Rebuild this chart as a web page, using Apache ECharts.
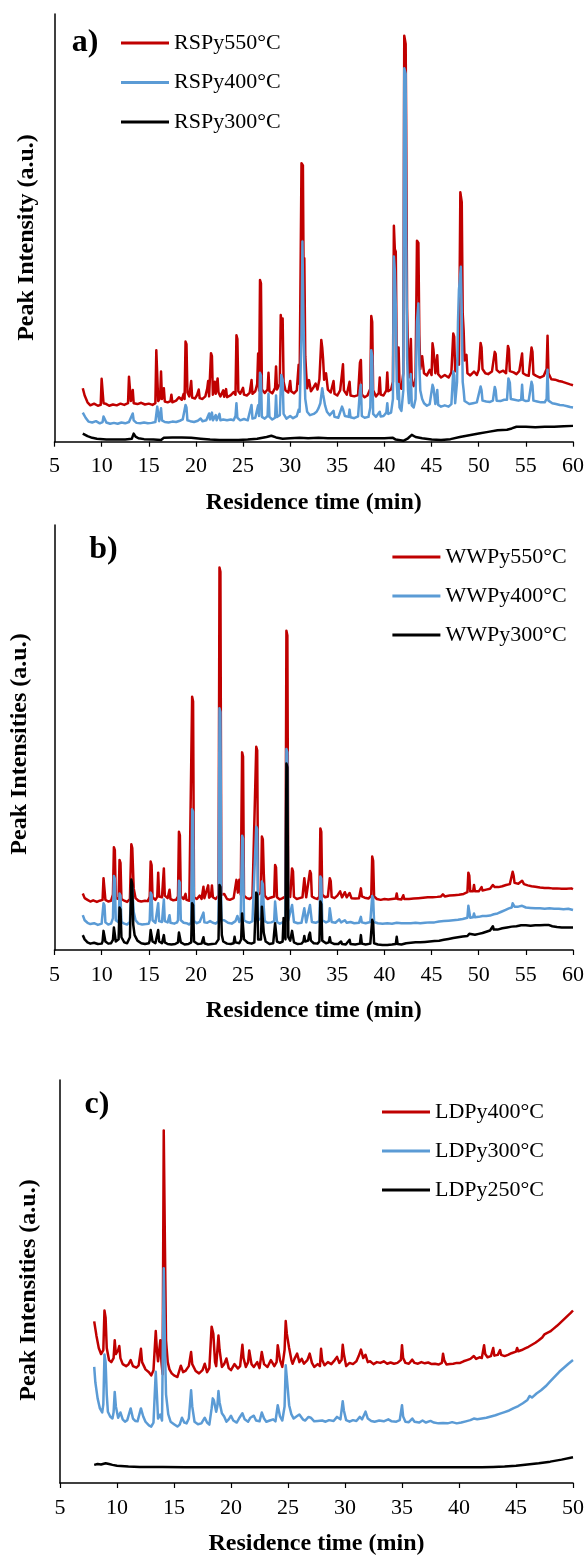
<!DOCTYPE html>
<html>
<head>
<meta charset="utf-8">
<script src="https://cdn.jsdelivr.net/npm/echarts@6/dist/echarts.min.js"></script>
<style>
html,body{margin:0;padding:0;background:#fff;}
#chart{width:587px;height:1557px;}
</style>
</head>
<body>
<div id="chart"></div>
<script>
// ---- Data (time in min, intensity in a.u., 0-100 of axis height) ----
const namesA = ['RSPy550°C', 'RSPy400°C', 'RSPy300°C'];
const namesB = ['WWPy550°C', 'WWPy400°C', 'WWPy300°C'];
const namesC = ['LDPy400°C', 'LDPy300°C', 'LDPy250°C'];
const panelLabels = ['a)', 'b)', 'c)'];
const yTitles = ['Peak Intensity (a.u.)', 'Peak Intensities (a.u.)', 'Peak Intensities (a.u.)'];
const xTitle = 'Residence time (min)';
const xRangeA = [5, 60], xRangeB = [5, 60], xRangeC = [5, 50];

const rspy550 = [[8.0,12.5],[8.2,10.8],[8.5,9.2],[8.8,8.5],[9.2,8.9],[9.6,8.4],[9.9,8.6],[10.0,14.7],[10.1,14.5],[10.2,9.0],[10.5,8.8],[10.8,8.4],[11.2,8.7],[11.6,8.5],[12.0,8.9],[12.4,8.6],[12.8,9.0],[12.9,15.2],[13.0,15.0],[13.1,9.5],[13.3,12.1],[13.4,9.0],[13.8,8.8],[14.2,9.1],[14.6,8.7],[15.0,8.9],[15.4,8.6],[15.7,9.0],[15.8,21.4],[15.9,21.0],[16.0,9.5],[16.2,10.2],[16.3,16.4],[16.4,10.0],[16.6,12.5],[16.7,9.4],[17.0,9.2],[17.3,9.5],[17.4,11.0],[17.5,9.2],[17.9,9.6],[18.2,10.4],[18.5,9.8],[18.7,11.2],[18.8,10.0],[18.9,23.4],[19.0,22.8],[19.1,11.5],[19.3,10.6],[19.5,14.2],[19.6,10.3],[19.9,10.1],[20.1,10.8],[20.3,12.2],[20.4,10.2],[20.7,10.0],[21.0,10.6],[21.2,12.4],[21.3,14.2],[21.4,10.6],[21.6,20.7],[21.7,20.0],[21.8,11.0],[22.0,14.0],[22.1,11.2],[22.3,14.8],[22.4,11.5],[22.6,10.6],[22.9,12.0],[23.0,10.5],[23.2,12.3],[23.3,10.4],[23.7,10.9],[24.0,11.6],[24.2,11.0],[24.3,24.9],[24.4,24.0],[24.5,11.8],[24.7,11.2],[25.0,12.6],[25.1,11.0],[25.4,10.8],[25.7,11.4],[25.9,14.4],[26.0,11.2],[26.3,11.8],[26.5,13.5],[26.6,20.6],[26.7,12.0],[26.8,37.8],[26.9,37.0],[27.0,12.2],[27.3,11.4],[27.6,12.2],[27.7,16.1],[27.8,11.8],[28.1,11.3],[28.4,12.6],[28.5,17.6],[28.6,12.2],[28.9,13.5],[29.0,29.6],[29.1,27.0],[29.2,28.8],[29.3,14.0],[29.5,12.0],[29.8,11.5],[30.0,14.2],[30.1,11.8],[30.4,11.3],[30.7,12.0],[30.9,18.0],[31.0,13.5],[31.2,65.1],[31.35,64.6],[31.45,30.0],[31.5,42.9],[31.6,20.0],[31.7,16.0],[31.8,12.5],[32.0,14.4],[32.2,11.8],[32.5,12.8],[32.7,13.6],[32.9,12.2],[33.1,14.6],[33.3,23.8],[33.4,22.0],[33.5,19.0],[33.6,14.5],[33.8,16.0],[34.0,12.2],[34.3,11.5],[34.6,14.2],[34.7,11.2],[35.0,10.8],[35.3,12.0],[35.5,16.0],[35.6,18.1],[35.7,12.0],[36.0,11.0],[36.3,14.0],[36.4,10.8],[36.8,10.6],[37.2,10.9],[37.4,18.5],[37.5,19.1],[37.6,11.0],[37.9,10.4],[38.2,10.8],[38.5,12.4],[38.6,29.4],[38.7,28.0],[38.8,12.0],[39.1,10.6],[39.4,11.4],[39.5,15.0],[39.6,11.0],[39.9,10.8],[40.2,12.0],[40.3,16.2],[40.4,11.8],[40.7,12.2],[40.9,14.0],[41.0,50.5],[41.1,45.0],[41.2,44.4],[41.3,20.0],[41.4,14.0],[41.5,22.0],[41.6,13.0],[41.8,12.4],[42.0,16.0],[42.1,94.9],[42.25,93.0],[42.3,75.2],[42.4,31.2],[42.5,20.0],[42.6,15.0],[42.8,24.0],[42.9,14.0],[43.1,13.0],[43.3,15.0],[43.45,47.0],[43.6,46.5],[43.7,25.0],[43.8,17.0],[44.0,20.0],[44.2,16.0],[44.5,15.5],[44.8,16.8],[45.0,15.6],[45.1,23.0],[45.2,21.5],[45.4,16.0],[45.6,20.2],[45.7,15.8],[46.0,15.0],[46.4,15.6],[46.8,15.0],[47.1,16.2],[47.3,25.3],[47.4,24.5],[47.5,16.5],[47.8,19.7],[47.9,18.0],[48.05,58.3],[48.2,56.0],[48.3,30.0],[48.4,26.0],[48.5,19.0],[48.7,20.3],[48.8,16.0],[49.1,15.5],[49.5,16.4],[49.8,15.6],[50.0,16.8],[50.2,23.1],[50.3,22.0],[50.4,17.0],[50.7,16.0],[51.0,15.8],[51.4,16.4],[51.7,21.0],[51.8,20.5],[51.9,16.8],[52.2,16.2],[52.6,16.6],[52.9,16.0],[53.1,22.4],[53.2,21.6],[53.3,16.5],[53.7,16.2],[54.0,15.8],[54.3,16.5],[54.6,20.6],[54.7,16.0],[55.0,15.6],[55.3,15.4],[55.6,22.0],[55.7,21.0],[55.8,15.8],[56.1,15.4],[56.5,15.0],[56.9,15.4],[57.2,17.0],[57.3,24.8],[57.4,16.0],[57.7,14.6],[58.1,14.5],[58.5,14.2],[58.9,14.0],[59.3,13.7],[59.7,13.4],[60.0,13.2]];

const rspy400 = [[8.0,6.8],[8.3,5.6],[8.6,4.7],[9.0,4.5],[9.4,4.8],[9.8,4.3],[10.1,4.6],[10.2,5.9],[10.3,5.6],[10.5,4.5],[10.9,4.2],[11.3,4.4],[11.7,4.2],[12.1,4.5],[12.5,4.3],[12.9,4.6],[13.1,5.0],[13.3,6.6],[13.4,5.0],[13.7,4.4],[14.1,4.3],[14.5,4.5],[14.9,4.3],[15.3,4.4],[15.7,4.6],[15.9,8.2],[16.0,7.8],[16.1,4.8],[16.3,7.8],[16.4,5.0],[16.7,4.6],[17.1,4.5],[17.5,4.7],[17.9,4.6],[18.3,4.9],[18.6,5.2],[18.9,8.6],[19.0,8.0],[19.1,5.0],[19.4,4.8],[19.8,4.6],[20.2,4.9],[20.5,5.4],[20.7,4.8],[21.1,5.0],[21.4,6.6],[21.5,5.2],[21.7,6.8],[21.8,5.0],[22.1,6.2],[22.2,5.0],[22.5,6.5],[22.6,5.0],[22.9,5.2],[23.3,5.0],[23.7,5.2],[24.0,5.0],[24.2,6.0],[24.3,9.0],[24.4,5.6],[24.7,5.0],[25.1,5.3],[25.5,5.0],[25.9,8.6],[26.0,5.4],[26.3,5.6],[26.6,8.5],[26.7,6.0],[26.8,16.1],[26.9,15.5],[27.0,5.8],[27.3,5.4],[27.6,6.0],[27.7,11.2],[27.8,5.8],[28.1,5.2],[28.4,5.6],[28.5,10.8],[28.6,5.8],[28.9,6.2],[29.05,15.6],[29.2,14.5],[29.3,6.5],[29.6,5.4],[30.0,6.0],[30.3,5.5],[30.7,6.0],[30.9,7.5],[31.0,7.0],[31.2,25.0],[31.3,46.8],[31.4,30.0],[31.5,18.0],[31.6,10.0],[31.8,7.0],[32.1,6.2],[32.5,6.5],[32.8,7.0],[33.0,7.8],[33.2,9.0],[33.4,12.5],[33.5,11.0],[33.7,8.5],[33.9,7.0],[34.2,6.2],[34.6,7.2],[34.7,5.8],[35.1,5.6],[35.5,8.2],[35.6,7.6],[35.8,6.0],[36.2,5.8],[36.3,7.5],[36.4,5.7],[36.8,5.5],[37.2,5.9],[37.4,12.0],[37.5,13.3],[37.6,6.0],[37.9,5.6],[38.3,5.8],[38.5,8.0],[38.6,21.4],[38.7,20.0],[38.8,6.5],[39.1,5.8],[39.5,7.0],[39.6,5.9],[39.9,6.0],[40.2,6.8],[40.3,9.0],[40.4,6.5],[40.7,6.8],[40.9,10.0],[41.0,43.3],[41.1,40.0],[41.2,32.0],[41.3,14.0],[41.4,10.0],[41.5,13.5],[41.6,8.0],[41.8,7.2],[42.0,12.0],[42.1,87.3],[42.25,86.0],[42.3,50.0],[42.4,20.0],[42.5,12.0],[42.6,9.0],[42.8,15.8],[42.9,8.5],[43.1,8.0],[43.3,10.0],[43.45,28.0],[43.6,32.3],[43.7,18.0],[43.8,12.0],[44.0,10.0],[44.2,9.0],[44.5,8.4],[44.8,8.8],[45.0,8.6],[45.1,13.3],[45.2,12.6],[45.4,8.8],[45.6,12.1],[45.7,8.6],[46.0,8.2],[46.4,8.5],[46.8,8.2],[47.1,8.8],[47.3,16.4],[47.4,15.5],[47.5,9.0],[47.7,14.0],[47.8,28.0],[47.9,35.5],[48.0,38.0],[48.1,40.9],[48.2,30.0],[48.3,14.0],[48.4,12.0],[48.5,9.5],[48.7,9.2],[49.0,8.8],[49.4,9.0],[49.8,9.2],[50.0,9.6],[50.2,12.9],[50.3,12.0],[50.4,9.6],[50.8,9.4],[51.2,9.3],[51.5,9.6],[51.7,12.8],[51.8,12.0],[51.9,9.6],[52.3,9.5],[52.7,9.8],[53.0,9.8],[53.15,14.8],[53.3,13.8],[53.4,10.0],[53.8,9.8],[54.2,9.6],[54.5,9.8],[54.6,13.3],[54.7,9.8],[55.0,9.5],[55.3,9.6],[55.6,14.0],[55.7,13.2],[55.8,9.6],[56.2,9.4],[56.6,9.2],[57.0,9.2],[57.2,10.0],[57.3,16.8],[57.4,9.6],[57.8,9.0],[58.2,8.8],[58.6,8.6],[59.0,8.5],[59.4,8.3],[59.7,8.1],[60.0,8.0]];

const rspy300 = [[8.0,1.9],[8.5,1.3],[9.0,0.9],[9.5,0.7],[10.5,0.5],[11.5,0.5],[12.5,0.5],[13.2,0.7],[13.4,1.9],[13.6,1.2],[13.9,0.8],[14.5,0.6],[15.5,0.5],[16.3,0.4],[16.6,0.9],[17.5,1.0],[18.5,1.0],[19.5,0.9],[20.5,0.7],[21.5,0.5],[22.5,0.4],[23.5,0.4],[24.5,0.4],[25.5,0.5],[26.5,0.7],[27.5,1.1],[28.0,1.4],[28.5,1.0],[29.2,0.7],[30.0,0.8],[31.0,0.9],[31.9,0.8],[32.1,1.0],[33.0,0.9],[34.0,0.8],[35.0,0.8],[36.0,0.8],[37.0,0.8],[38.0,0.8],[39.0,0.8],[40.0,0.8],[40.9,0.9],[41.2,0.5],[42.0,0.2],[42.5,0.8],[42.9,1.6],[43.3,1.1],[44.0,0.8],[45.0,0.5],[46.0,0.4],[47.0,0.6],[48.0,1.1],[49.0,1.5],[50.0,1.9],[51.0,2.3],[52.0,2.7],[53.0,2.8],[53.5,3.1],[54.0,3.5],[55.0,3.5],[56.0,3.4],[57.0,3.5],[58.0,3.5],[59.0,3.6],[60.0,3.7]];

const wwpy550 = [[8.0,13.3],[8.2,12.2],[8.5,11.8],[8.8,11.4],[9.1,11.7],[9.5,11.3],[9.8,11.6],[10.1,11.8],[10.2,16.9],[10.3,16.5],[10.4,11.8],[10.7,11.4],[11.0,11.6],[11.2,13.0],[11.3,24.2],[11.4,23.5],[11.5,12.2],[11.8,12.0],[11.9,21.2],[12.0,20.5],[12.1,12.0],[12.4,11.6],[12.7,11.3],[13.0,12.0],[13.15,24.9],[13.25,24.0],[13.4,14.5],[13.6,12.2],[13.9,11.6],[14.2,11.4],[14.6,11.6],[14.9,11.5],[15.1,12.5],[15.2,20.8],[15.3,20.0],[15.4,12.4],[15.7,11.8],[15.9,12.5],[16.0,18.2],[16.1,12.6],[16.4,12.4],[16.6,19.2],[16.7,12.8],[17.0,12.2],[17.2,14.2],[17.3,12.0],[17.6,11.7],[17.9,11.8],[18.1,12.6],[18.2,27.8],[18.3,27.0],[18.4,12.6],[18.7,12.0],[18.9,13.2],[19.0,11.8],[19.3,11.6],[19.5,12.0],[19.6,59.6],[19.7,58.5],[19.8,12.4],[20.1,12.0],[20.4,12.8],[20.6,12.0],[20.8,14.9],[20.9,12.2],[21.1,12.4],[21.3,15.2],[21.4,12.3],[21.6,12.8],[21.7,15.2],[21.8,12.4],[22.1,12.0],[22.4,12.8],[22.5,90.0],[22.6,89.0],[22.7,13.0],[23.0,13.2],[23.3,12.0],[23.6,11.8],[24.0,12.2],[24.3,16.5],[24.45,13.5],[24.6,16.5],[24.75,13.0],[24.9,46.5],[25.0,45.5],[25.1,12.8],[25.4,12.2],[25.7,12.0],[26.0,12.5],[26.2,12.2],[26.4,47.8],[26.5,47.0],[26.6,13.0],[26.9,13.5],[27.0,26.7],[27.1,26.0],[27.2,18.0],[27.3,12.8],[27.6,12.0],[27.9,12.3],[28.3,12.6],[28.4,20.0],[28.5,19.4],[28.6,12.4],[28.9,11.9],[29.2,12.2],[29.5,12.6],[29.6,75.1],[29.7,74.0],[29.8,13.2],[30.0,12.5],[30.2,19.2],[30.3,18.5],[30.4,12.5],[30.7,12.0],[31.0,12.2],[31.3,12.4],[31.5,16.9],[31.6,16.5],[31.7,12.4],[31.9,12.6],[32.1,18.6],[32.2,18.0],[32.3,12.6],[32.6,12.2],[32.9,12.0],[33.1,12.6],[33.2,28.6],[33.3,27.8],[33.4,13.0],[33.7,12.4],[34.0,12.6],[34.2,16.9],[34.3,16.2],[34.4,12.5],[34.7,12.2],[35.0,12.8],[35.3,13.8],[35.5,12.4],[35.8,13.6],[36.0,12.4],[36.3,13.4],[36.5,12.2],[36.9,12.1],[37.3,12.2],[37.5,14.5],[37.6,12.6],[37.9,12.3],[38.3,12.1],[38.6,12.8],[38.7,22.0],[38.8,21.0],[38.9,12.6],[39.2,12.0],[39.6,11.8],[40.0,12.0],[40.4,11.9],[40.8,12.0],[41.2,12.1],[41.3,13.3],[41.4,12.0],[41.8,11.9],[42.0,12.9],[42.1,12.0],[42.6,12.0],[43.1,12.1],[43.6,12.2],[44.1,12.3],[44.6,12.4],[45.1,12.4],[45.6,12.5],[46.0,12.6],[46.2,13.1],[46.4,12.6],[46.9,12.8],[47.4,12.9],[47.9,13.0],[48.4,13.2],[48.8,13.6],[48.9,18.2],[49.0,17.5],[49.1,13.8],[49.4,13.8],[49.5,15.3],[49.6,13.8],[50.0,13.8],[50.3,14.8],[50.4,14.0],[50.8,14.2],[51.2,14.4],[51.5,15.3],[51.7,14.8],[52.1,14.8],[52.5,15.0],[52.9,15.3],[53.3,15.5],[53.5,15.8],[53.6,18.4],[53.7,17.5],[53.8,15.8],[54.2,15.6],[54.6,16.3],[54.8,15.5],[55.2,15.2],[55.6,15.0],[56.0,14.9],[56.5,14.7],[57.0,14.6],[57.2,15.0],[57.4,14.6],[57.8,14.5],[58.3,14.5],[58.8,14.4],[59.3,14.4],[59.8,14.5],[60.0,14.3]];

const wwpy400 = [[8.0,8.2],[8.2,7.0],[8.5,6.4],[8.8,6.1],[9.2,6.3],[9.6,5.9],[10.0,6.2],[10.1,6.6],[10.2,11.0],[10.3,10.5],[10.4,6.5],[10.7,6.0],[11.0,6.2],[11.2,7.5],[11.3,17.4],[11.4,16.8],[11.5,7.0],[11.8,6.5],[11.9,13.3],[12.0,12.8],[12.1,6.6],[12.4,6.2],[12.7,6.0],[13.0,6.6],[13.15,15.3],[13.25,14.6],[13.4,9.0],[13.6,7.0],[13.9,6.2],[14.3,6.0],[14.7,6.1],[15.0,6.2],[15.1,7.0],[15.2,13.5],[15.3,13.0],[15.4,7.0],[15.7,6.4],[15.9,6.8],[16.0,11.0],[16.1,6.8],[16.4,6.6],[16.6,11.9],[16.7,6.8],[17.0,6.5],[17.2,8.2],[17.3,6.4],[17.7,6.2],[18.0,6.5],[18.1,7.0],[18.2,16.3],[18.3,15.8],[18.4,7.0],[18.7,6.4],[19.0,6.3],[19.3,6.0],[19.5,6.5],[19.6,33.1],[19.7,32.5],[19.8,6.8],[20.1,6.3],[20.4,6.6],[20.6,6.2],[20.8,8.8],[20.9,6.5],[21.2,6.4],[21.5,6.8],[21.8,6.4],[22.1,6.2],[22.4,6.8],[22.5,56.9],[22.6,56.0],[22.7,7.0],[23.0,7.0],[23.4,6.4],[23.8,6.2],[24.2,6.8],[24.4,8.0],[24.6,6.6],[24.75,7.5],[24.9,26.9],[25.0,26.2],[25.1,7.0],[25.4,6.6],[25.7,6.4],[26.0,6.8],[26.2,6.5],[26.4,29.0],[26.5,28.4],[26.6,7.0],[26.9,7.5],[27.0,16.1],[27.1,15.5],[27.2,10.0],[27.3,6.8],[27.6,6.4],[28.0,6.5],[28.3,6.8],[28.4,11.4],[28.5,11.0],[28.6,6.6],[28.9,6.2],[29.2,6.5],[29.5,6.8],[29.6,47.3],[29.7,46.5],[29.8,7.0],[30.0,6.6],[30.2,10.6],[30.3,10.2],[30.4,6.6],[30.8,6.3],[31.2,6.4],[31.5,9.8],[31.6,9.5],[31.7,6.5],[31.9,6.6],[32.1,10.6],[32.2,10.2],[32.3,6.6],[32.7,6.4],[33.1,6.8],[33.2,17.3],[33.3,16.8],[33.4,7.0],[33.8,6.5],[34.1,6.8],[34.2,9.8],[34.3,9.4],[34.4,6.6],[34.8,6.4],[35.2,7.2],[35.4,6.5],[35.8,7.0],[36.0,6.4],[36.4,6.6],[36.8,6.3],[37.3,6.4],[37.5,7.8],[37.6,6.5],[38.0,6.3],[38.5,6.6],[38.7,12.7],[38.8,12.2],[38.9,6.6],[39.3,6.3],[39.8,6.2],[40.3,6.3],[40.8,6.2],[41.3,6.4],[41.8,6.3],[42.3,6.3],[42.8,6.3],[43.3,6.4],[43.8,6.3],[44.3,6.4],[44.8,6.5],[45.3,6.5],[45.8,6.7],[46.3,6.8],[46.8,6.9],[47.3,7.0],[47.8,7.1],[48.3,7.3],[48.8,7.6],[48.9,10.4],[49.0,10.0],[49.1,7.6],[49.4,7.7],[49.5,8.6],[49.6,7.7],[50.0,7.8],[50.4,8.0],[50.8,8.0],[51.2,8.1],[51.6,8.4],[52.0,8.6],[52.4,9.0],[52.8,9.4],[53.2,9.8],[53.5,10.0],[53.6,11.0],[53.7,10.6],[53.8,10.2],[54.2,10.2],[54.6,10.4],[55.0,10.0],[55.5,9.9],[56.0,9.8],[56.5,9.8],[57.0,9.7],[57.5,9.8],[58.0,9.7],[58.5,9.7],[59.0,9.6],[59.5,9.7],[60.0,9.4]];

const wwpy300 = [[8.0,3.5],[8.2,2.5],[8.5,1.8],[8.8,1.5],[9.2,1.7],[9.6,1.4],[10.0,1.5],[10.1,2.0],[10.2,4.5],[10.3,4.2],[10.4,2.0],[10.7,1.5],[11.0,1.6],[11.2,2.4],[11.3,5.3],[11.4,5.0],[11.5,2.0],[11.8,2.5],[11.9,10.0],[12.0,9.5],[12.1,3.0],[12.4,1.8],[12.7,1.6],[13.0,3.0],[13.15,16.6],[13.25,15.5],[13.35,6.0],[13.5,3.5],[13.8,2.2],[14.2,1.6],[14.6,1.4],[15.0,1.6],[15.1,2.2],[15.2,4.7],[15.3,4.3],[15.4,2.0],[15.7,1.6],[15.9,2.0],[16.0,4.7],[16.1,2.0],[16.4,1.6],[16.6,3.5],[16.7,1.8],[17.0,1.4],[17.4,1.3],[17.8,1.4],[18.1,1.8],[18.2,4.1],[18.3,3.8],[18.4,1.8],[18.8,1.3],[19.2,1.4],[19.5,1.8],[19.6,11.0],[19.7,10.5],[19.8,2.0],[20.2,1.4],[20.6,1.5],[20.8,3.0],[20.9,1.6],[21.3,1.3],[21.7,1.4],[22.1,1.5],[22.4,2.5],[22.5,15.3],[22.6,14.8],[22.75,3.5],[22.9,2.0],[23.3,1.5],[23.7,1.4],[24.0,1.6],[24.1,3.1],[24.2,1.8],[24.6,1.6],[24.8,2.5],[24.9,8.6],[25.0,8.2],[25.1,2.5],[25.5,1.7],[25.9,1.5],[26.2,1.8],[26.4,13.5],[26.5,13.0],[26.6,2.5],[26.9,2.5],[27.0,10.2],[27.1,9.8],[27.2,4.0],[27.4,2.0],[27.8,1.4],[28.2,1.6],[28.3,2.0],[28.4,6.3],[28.5,6.0],[28.6,2.0],[28.9,1.7],[29.2,2.0],[29.3,7.5],[29.4,4.0],[29.5,2.5],[29.6,43.9],[29.7,43.0],[29.8,3.0],[30.0,2.2],[30.2,4.5],[30.3,4.2],[30.4,1.8],[30.8,1.4],[31.2,1.5],[31.4,2.0],[31.5,3.3],[31.6,2.0],[31.9,2.2],[32.0,3.5],[32.1,4.1],[32.2,2.2],[32.5,1.6],[32.9,1.5],[33.1,2.0],[33.2,11.4],[33.3,10.8],[33.4,2.2],[33.8,1.6],[34.1,1.8],[34.2,3.0],[34.3,1.8],[34.7,1.4],[35.1,1.4],[35.4,2.0],[35.5,1.4],[35.9,1.3],[36.3,2.4],[36.4,1.4],[36.9,1.3],[37.4,1.5],[37.5,3.5],[37.6,1.5],[38.0,1.3],[38.5,1.5],[38.7,7.1],[38.8,6.5],[38.9,1.6],[39.3,1.3],[39.8,1.2],[40.3,1.2],[40.8,1.3],[41.2,1.4],[41.3,3.1],[41.4,1.4],[41.8,1.3],[42.3,1.6],[42.8,1.7],[43.3,1.8],[43.8,1.8],[44.3,1.9],[44.8,2.0],[45.3,2.1],[45.8,2.2],[46.3,2.4],[46.8,2.6],[47.3,2.8],[47.8,3.0],[48.3,3.2],[48.8,3.3],[49.0,3.8],[49.2,3.4],[49.6,3.6],[50.0,3.8],[50.4,4.0],[50.8,4.3],[51.2,4.6],[51.5,5.6],[51.6,4.8],[52.0,4.8],[52.5,5.1],[53.0,5.3],[53.5,5.5],[54.0,5.6],[54.5,5.8],[55.0,5.8],[55.5,5.7],[56.0,5.8],[56.5,5.8],[57.0,5.9],[57.2,6.2],[57.4,5.9],[57.8,5.6],[58.3,5.4],[58.8,5.3],[59.3,5.3],[60.0,5.3]];

const ldpy400 = [[8.0,40.1],[8.2,36.5],[8.4,33.5],[8.6,32.0],[8.8,33.0],[8.9,42.8],[9.0,41.0],[9.1,33.5],[9.3,30.5],[9.5,30.0],[9.7,31.0],[9.8,35.4],[9.9,32.0],[10.1,33.0],[10.2,34.0],[10.3,31.0],[10.5,29.5],[10.8,29.0],[11.0,29.4],[11.2,30.5],[11.4,29.0],[11.7,28.6],[11.9,29.2],[12.1,33.3],[12.2,30.0],[12.5,28.2],[12.8,27.5],[13.0,26.7],[13.2,28.0],[13.4,37.7],[13.5,33.0],[13.6,30.2],[13.8,35.4],[13.9,30.0],[14.0,27.0],[14.1,87.5],[14.2,60.0],[14.3,35.4],[14.45,30.0],[14.6,28.2],[14.8,27.2],[15.0,26.7],[15.3,26.3],[15.6,29.1],[15.8,27.5],[16.0,27.8],[16.3,29.0],[16.5,32.5],[16.6,29.5],[16.9,27.8],[17.2,27.2],[17.5,28.0],[17.7,29.6],[17.9,27.5],[18.1,28.5],[18.3,38.8],[18.45,37.0],[18.6,30.0],[18.7,29.0],[18.9,36.6],[19.0,33.0],[19.2,28.8],[19.4,29.5],[19.6,30.9],[19.8,28.5],[20.0,28.0],[20.3,29.5],[20.6,28.4],[20.8,29.0],[21.0,34.3],[21.1,31.0],[21.3,28.8],[21.5,30.0],[21.6,32.9],[21.8,29.5],[22.0,28.8],[22.3,30.0],[22.5,28.5],[22.7,32.5],[22.9,29.5],[23.2,28.8],[23.5,30.5],[23.8,29.0],[24.0,30.0],[24.1,34.2],[24.3,30.5],[24.5,28.8],[24.7,33.0],[24.8,40.2],[24.9,37.0],[25.1,33.5],[25.3,30.5],[25.4,29.6],[25.6,31.0],[25.8,32.1],[26.0,30.0],[26.2,30.8],[26.4,29.6],[26.7,30.5],[26.9,32.1],[27.1,29.8],[27.3,28.8],[27.6,29.5],[27.8,29.0],[27.9,33.3],[28.0,30.5],[28.2,29.2],[28.5,30.0],[28.8,29.5],[29.1,30.5],[29.3,31.3],[29.5,29.8],[29.7,30.5],[29.8,34.3],[29.9,32.0],[30.1,29.0],[30.4,29.8],[30.7,29.5],[31.0,30.2],[31.2,31.5],[31.4,33.1],[31.6,31.0],[31.8,31.8],[32.0,30.0],[32.2,30.2],[32.5,29.5],[32.8,30.0],[33.1,29.8],[33.4,30.2],[33.7,29.6],[34.0,29.9],[34.3,29.6],[34.6,29.8],[34.9,30.5],[35.0,34.2],[35.1,31.0],[35.3,29.8],[35.6,29.6],[35.9,30.6],[36.1,29.8],[36.4,29.6],[36.7,30.0],[37.0,29.7],[37.3,29.9],[37.6,29.5],[37.9,29.6],[38.2,29.4],[38.5,29.8],[38.6,32.1],[38.7,30.5],[38.9,29.4],[39.2,29.5],[39.5,29.6],[39.8,29.8],[40.1,29.8],[40.4,30.2],[40.7,30.5],[41.0,30.8],[41.3,31.5],[41.5,30.8],[41.8,31.2],[42.0,31.0],[42.2,34.2],[42.3,32.0],[42.5,31.2],[42.8,31.5],[43.0,33.5],[43.1,31.6],[43.4,31.8],[43.6,33.0],[43.7,31.8],[44.0,31.5],[44.3,31.8],[44.6,32.2],[45.0,32.6],[45.1,33.5],[45.2,32.7],[45.5,33.0],[45.8,33.4],[46.1,33.8],[46.4,34.3],[46.7,34.8],[47.0,35.4],[47.3,36.1],[47.5,36.9],[47.7,37.2],[48.0,37.6],[48.3,38.3],[48.6,39.0],[48.9,39.8],[49.2,40.6],[49.5,41.4],[49.8,42.2],[50.0,42.8]];

const ldpy300 = [[8.0,28.8],[8.1,25.0],[8.3,21.0],[8.5,18.5],[8.7,17.5],[8.8,19.5],[8.9,31.9],[9.0,30.0],[9.1,22.0],[9.2,17.7],[9.4,16.5],[9.6,16.0],[9.7,17.5],[9.8,22.6],[9.9,19.0],[10.1,16.2],[10.3,17.5],[10.5,15.8],[10.7,15.2],[10.9,15.6],[11.2,18.5],[11.4,16.0],[11.6,15.4],[11.8,15.3],[12.1,18.5],[12.3,16.5],[12.5,15.2],[12.8,14.3],[13.0,14.0],[13.2,15.0],[13.4,27.6],[13.5,22.0],[13.6,16.0],[13.8,17.0],[13.95,15.5],[14.1,53.3],[14.2,35.0],[14.3,22.0],[14.5,17.0],[14.7,15.2],[15.0,14.6],[15.3,14.0],[15.5,14.5],[15.7,16.2],[15.9,15.0],[16.1,14.8],[16.3,16.0],[16.5,23.0],[16.6,19.0],[16.8,15.2],[17.1,14.6],[17.4,14.8],[17.7,16.2],[17.9,15.0],[18.1,14.5],[18.3,18.5],[18.4,21.0],[18.5,20.5],[18.7,17.7],[18.8,19.0],[18.9,22.8],[19.0,20.0],[19.2,17.3],[19.4,16.5],[19.6,15.2],[19.8,15.8],[20.0,16.7],[20.2,15.5],[20.5,15.0],[20.7,16.0],[21.0,17.3],[21.2,15.8],[21.5,15.2],[21.7,16.2],[22.0,16.7],[22.2,15.5],[22.5,15.3],[22.7,17.5],[22.9,16.0],[23.1,15.2],[23.4,15.5],[23.7,15.8],[23.9,15.3],[24.1,19.3],[24.3,16.5],[24.5,15.5],[24.7,19.0],[24.8,29.2],[24.9,26.0],[25.1,19.3],[25.3,17.0],[25.5,16.0],[25.8,16.6],[26.0,17.0],[26.3,15.8],[26.5,15.5],[26.8,16.4],[27.0,16.2],[27.3,15.3],[27.6,15.4],[28.0,15.5],[28.3,15.2],[28.6,15.6],[29.0,15.4],[29.3,16.4],[29.6,15.8],[29.8,20.3],[29.9,18.0],[30.1,15.6],[30.4,15.2],[30.7,15.6],[31.0,15.4],[31.3,16.4],[31.5,15.8],[31.8,17.7],[32.0,16.0],[32.3,15.4],[32.6,15.2],[33.0,15.5],[33.4,15.3],[33.8,15.8],[34.1,15.3],[34.5,15.2],[34.8,15.6],[35.0,19.3],[35.1,16.5],[35.3,15.2],[35.6,15.1],[35.9,16.0],[36.1,15.2],[36.5,15.0],[36.8,15.5],[37.1,15.0],[37.5,15.4],[37.8,15.0],[38.2,14.8],[38.6,14.9],[39.0,14.8],[39.4,15.1],[39.8,14.8],[40.2,15.0],[40.6,15.3],[41.0,15.6],[41.3,16.0],[41.6,15.8],[42.0,16.0],[42.4,16.2],[42.8,16.5],[43.2,16.8],[43.6,17.2],[44.0,17.6],[44.4,18.0],[44.8,18.6],[45.2,19.1],[45.6,19.8],[46.0,20.6],[46.2,21.6],[46.4,21.2],[46.8,22.2],[47.2,23.0],[47.6,24.0],[48.0,25.2],[48.4,26.4],[48.8,27.6],[49.2,28.6],[49.6,29.6],[50.0,30.5]];

const ldpy250 = [[8.0,4.5],[8.3,4.7],[8.6,4.6],[9.0,4.9],[9.3,4.7],[9.6,4.5],[10.0,4.3],[11.0,4.1],[12.0,4.0],[14.0,4.0],[16.0,3.9],[18.0,3.9],[20.0,3.9],[22.0,3.9],[24.0,3.9],[26.0,3.9],[28.0,3.9],[30.0,3.9],[32.0,3.9],[34.0,3.9],[36.0,3.9],[38.0,3.9],[40.0,3.9],[42.0,3.9],[43.0,4.0],[44.0,4.1],[45.0,4.3],[46.0,4.6],[47.0,4.9],[48.0,5.3],[49.0,5.8],[50.0,6.4]];

// ---- Styling ----
const colors = ['#C00000', '#5B9BD5', '#000000'];
const FONT = '"Liberation Serif", "Times New Roman", serif';

const grids = [
  {left: 54.5, top: 14, width: 521.2, height: 427.7},
  {left: 54.5, top: 525, width: 521.2, height: 425},
  {left: 60, top: 1080, width: 515.7, height: 405}
];
const ranges = [xRangeA, xRangeB, xRangeC];

function xAxisFor(i) {
  return {
    type: 'value', gridIndex: i, min: ranges[i][0], max: ranges[i][1], interval: 5,
    name: xTitle, nameLocation: 'middle', nameGap: 49,
    nameTextStyle: {fontFamily: FONT, fontWeight: 'bold', fontSize: 24, color: '#000'},
    axisLine: {show: true, onZero: false, lineStyle: {color: '#000', width: 1.5}},
    axisTick: {show: true, inside: false, length: 5, lineStyle: {color: '#000', width: 1.2}},
    axisLabel: {fontFamily: FONT, fontSize: 22, color: '#000', margin: 14},
    splitLine: {show: false}
  };
}
function yAxisFor(i) {
  return {
    type: 'value', gridIndex: i, min: 0, max: 100,
    axisLine: {show: true, lineStyle: {color: '#000', width: 1.5}},
    axisTick: {show: false}, axisLabel: {show: false}, splitLine: {show: false}
  };
}

const sets = [
  [namesA, [rspy550, rspy400, rspy300]],
  [namesB, [wwpy550, wwpy400, wwpy300]],
  [namesC, [ldpy400, ldpy300, ldpy250]]
];
const series = [];
sets.forEach(function (s, gi) {
  s[1].forEach(function (d, k) {
    series.push({
      name: s[0][k], type: 'line', xAxisIndex: gi, yAxisIndex: gi,
      data: d, symbol: 'none', showSymbol: false, smooth: false,
      color: colors[k],
      lineStyle: {color: colors[k], width: 2.5, join: 'round'},
      emphasis: {disabled: true}, z: 2 + k
    });
  });
});

const legendPos = [
  {left: 121, top: 32, gap: 17.5},
  {left: 392.4, top: 546, gap: 17},
  {left: 382, top: 1101, gap: 17}
];
const legends = legendPos.map(function (p, i) {
  return {
    data: sets[i][0], orient: 'vertical', left: p.left, top: p.top, padding: 0,
    itemGap: p.gap, itemWidth: 48, itemHeight: 3, icon: 'rect', itemTextGap: 5,
    textStyle: {fontFamily: FONT, fontSize: 22, color: '#000'},
    selectedMode: false
  };
});

const labelPos = [[85, 43], [103.5, 550], [97, 1105]];
const yTitlePos = [[27, 237.5], [20, 744], [29, 1290]];
const graphics = [];
labelPos.forEach(function (p, i) {
  graphics.push({type: 'text', x: p[0], y: p[1],
    style: {text: panelLabels[i], fontFamily: FONT, fontWeight: 'bold', fontSize: 32, fill: '#000', align: 'center', verticalAlign: 'middle'}});
});
yTitlePos.forEach(function (p, i) {
  graphics.push({type: 'text', x: p[0], y: p[1], rotation: Math.PI / 2,
    style: {text: yTitles[i], fontFamily: FONT, fontWeight: 'bold', fontSize: 24, fill: '#000', align: 'center', verticalAlign: 'middle'}});
});

const chart = echarts.init(document.getElementById('chart'), null, {renderer: 'canvas'});
chart.setOption({
  animation: false,
  backgroundColor: '#fff',
  grid: grids,
  xAxis: [0, 1, 2].map(xAxisFor),
  yAxis: [0, 1, 2].map(yAxisFor),
  legend: legends,
  graphic: graphics,
  series: series
});
</script>
</body>
</html>
